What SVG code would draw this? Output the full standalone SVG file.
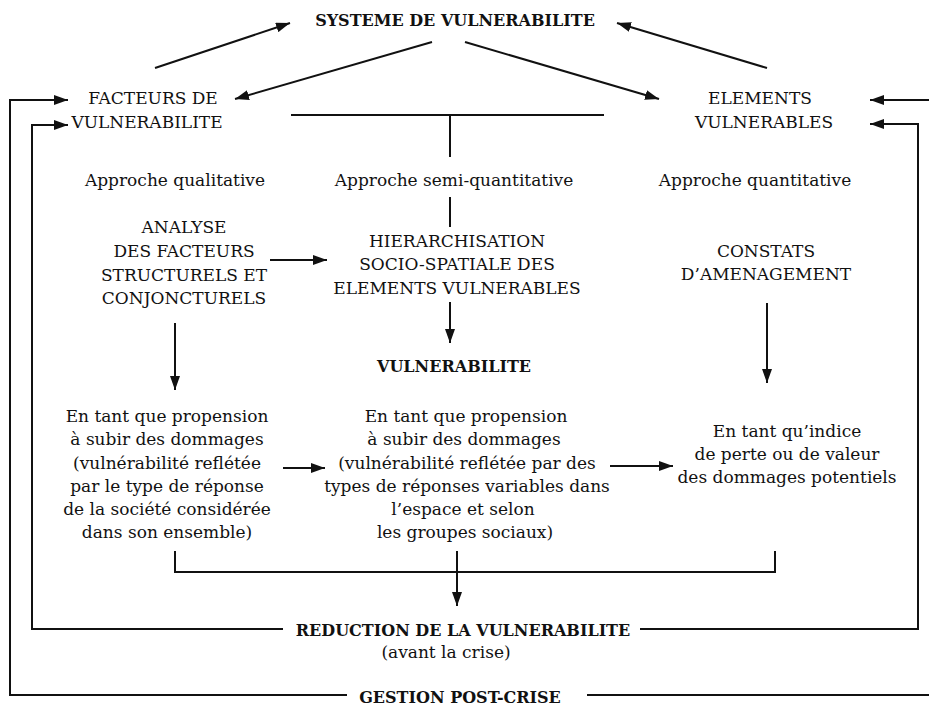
<svg xmlns="http://www.w3.org/2000/svg" width="929" height="709" viewBox="0 0 929 709">
<style>
text{font-family:"DejaVu Serif","Liberation Serif",serif;font-size:17px;fill:#111;text-anchor:middle}
.b{font-weight:bold;font-size:16px}
.c{fill:none;stroke:#111;stroke-width:2}
.a{marker-end:url(#ah)}
</style>
<defs>
<marker id="ah" markerUnits="userSpaceOnUse" markerWidth="14" markerHeight="10" refX="14" refY="5" orient="auto"><path d="M0,0 L14,5 L0,10 Z" fill="#111"/></marker>
</defs>
<rect width="929" height="709" fill="#fff"/>
<g id="connectors">
<path class="c a" d="M155,68 L290,23"/>
<path class="c a" d="M432,42 L235,99"/>
<path class="c a" d="M465,42 L659,99"/>
<path class="c a" d="M767,68 L617,23"/>
<path class="c a" d="M347,695 H10 V100 H68"/>
<path class="c a" d="M587,695 H935 V100 H870"/>
<path class="c a" d="M283,629 H32 V125 H68"/>
<path class="c a" d="M640,629 H918 V124 H870"/>
<path class="c" d="M291,115 H604 M450,115 V157 M450,197 V227"/>
<path class="c a" d="M450,302 V343"/>
<path class="c a" d="M270,260 H327"/>
<path class="c a" d="M175,323 V390"/>
<path class="c a" d="M767,303 V383"/>
<path class="c a" d="M283,468 H325"/>
<path class="c a" d="M610,466 H673"/>
<path class="c" d="M175,551 V572 H775 V551"/>
<path class="c a" d="M457,551 V606"/>
</g>
<g id="systeme"><text class="b" x="455" y="26">SYSTEME DE VULNERABILITE</text></g>
<g id="facteurs"><text x="153" y="104">FACTEURS DE</text><text x="147" y="128">VULNERABILITE</text></g>
<g id="elements"><text x="760" y="104">ELEMENTS</text><text x="764" y="128">VULNERABLES</text></g>
<g id="approche-qual"><text x="175" y="186">Approche qualitative</text></g>
<g id="approche-semi"><text x="454" y="186">Approche semi-quantitative</text></g>
<g id="approche-quant"><text x="755" y="186">Approche quantitative</text></g>
<g id="analyse"><text x="184" y="233">ANALYSE</text><text x="184" y="257">DES FACTEURS</text><text x="184" y="281">STRUCTURELS ET</text><text x="184" y="304">CONJONCTURELS</text></g>
<g id="hierarchisation"><text x="457" y="247">HIERARCHISATION</text><text x="457" y="270">SOCIO-SPATIALE DES</text><text x="457" y="294">ELEMENTS VULNERABLES</text></g>
<g id="constats"><text x="766" y="257">CONSTATS</text><text x="766" y="280">D’AMENAGEMENT</text></g>
<g id="vulnerabilite"><text class="b" x="454" y="372">VULNERABILITE</text></g>
<g id="propension-1"><text x="167" y="422">En tant que propension</text><text x="167" y="445">à subir des dommages</text><text x="167" y="469">(vulnérabilité reflétée</text><text x="167" y="492">par le type de réponse</text><text x="167" y="515">de la société considérée</text><text x="167" y="538">dans son ensemble)</text></g>
<g id="propension-2"><text x="466" y="422">En tant que propension</text><text x="464" y="445">à subir des dommages</text><text x="467" y="469">(vulnérabilité reflétée par des</text><text x="467" y="492">types de réponses variables dans</text><text x="463" y="515">l’espace et selon</text><text x="465" y="538">les groupes sociaux)</text></g>
<g id="indice"><text x="787" y="437">En tant qu’indice</text><text x="787" y="460">de perte ou de valeur</text><text x="787" y="483">des dommages potentiels</text></g>
<g id="reduction"><text class="b" x="463" y="636">REDUCTION DE LA VULNERABILITE</text><text x="446" y="658">(avant la crise)</text></g>
<g id="gestion"><text class="b" x="460" y="703">GESTION POST-CRISE</text></g>
</svg>
